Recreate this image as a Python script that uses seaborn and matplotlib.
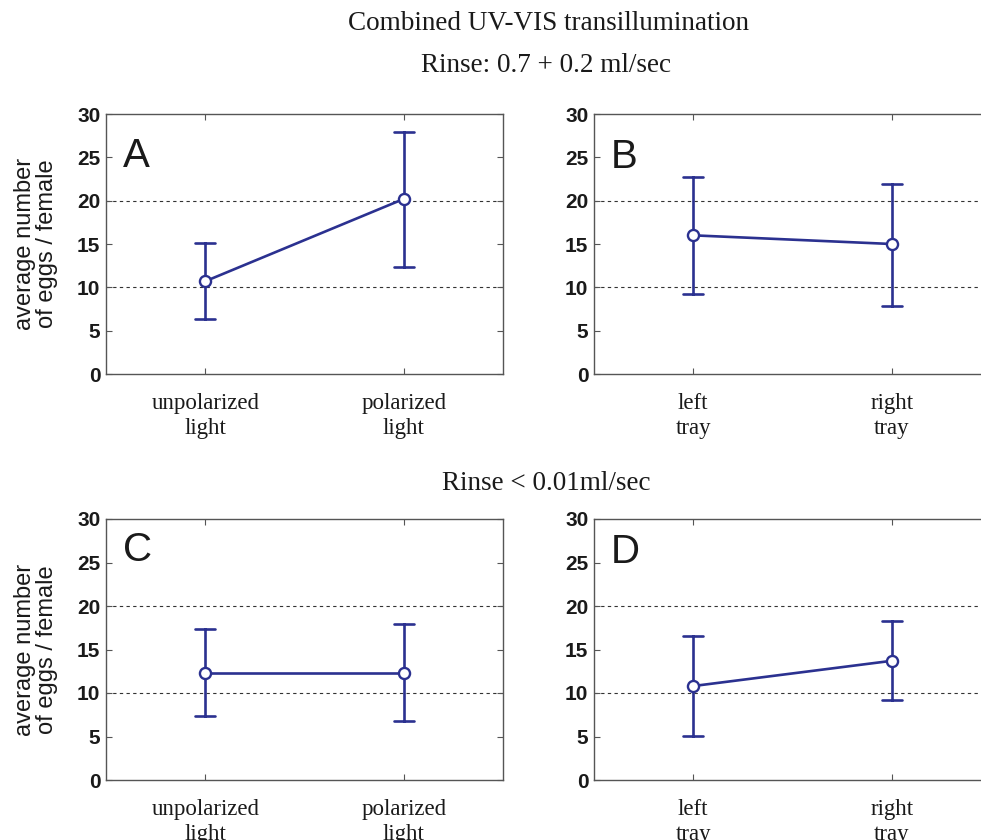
import matplotlib
matplotlib.use("Agg")
import matplotlib.pyplot as plt
import numpy as np
import pandas as pd
import seaborn as sns

# --- values ------------------------------------------------------------------
light_labels = ["unpolarized\nlight", "polarized\nlight"]
tray_labels = ["left\ntray", "right\ntray"]

# A: fast rinse, light type
a_mean = [10.7, 20.2]
a_low = [6.3, 12.4]
a_high = [15.1, 27.9]

# B: fast rinse, tray side
b_mean = [16.0, 15.0]
b_low = [9.2, 7.9]
b_high = [22.7, 21.9]

# C: slow rinse, light type
c_mean = [12.3, 12.3]
c_low = [7.3, 6.8]
c_high = [17.3, 17.9]

# D: slow rinse, tray side
d_mean = [10.8, 13.7]
d_low = [5.1, 9.2]
d_high = [16.6, 18.3]

y_ticks = [0, 5, 10, 15, 20, 25, 30]
grid_levels = [10, 20]

title_main = "Combined UV-VIS transillumination"
title_fast = "Rinse: 0.7 + 0.2 ml/sec"
title_slow = "Rinse < 0.01ml/sec"
y_label = "average number\nof eggs / female"

BLUE = "#2b3190"
SPINE = "#555555"
INK = "#1a1a1a"
SERIF = ["Liberation Serif", "DejaVu Serif"]
SANS = ["Liberation Sans", "DejaVu Sans"]

sns.set_theme(style="white")
plt.rcParams["font.family"] = SANS


def panel_frame(labels, low, mean, high):
    """Long form: low / mean / high per condition; median -> mean, min/max -> bar."""
    rows = []
    for lab, lo, m, hi in zip(labels, low, mean, high):
        rows += [(lab, lo), (lab, m), (lab, hi)]
    return pd.DataFrame(rows, columns=["condition", "eggs"])


def draw_panel(ax, labels, low, mean, high, letter, letter_y, ylabel=None):
    df = panel_frame(labels, low, mean, high)
    sns.pointplot(
        data=df, x="condition", y="eggs",
        estimator="median", errorbar=lambda v: (v.min(), v.max()),
        capsize=0.1, color=BLUE, markers="o",
        markersize=8, markerfacecolor="white", markeredgewidth=1.7,
        linewidth=1.9, err_kws={"linewidth": 1.9},
        ax=ax,
    )
    for line in ax.lines:
        if line.get_marker() == "o":
            line.set_zorder(5)
    for lvl in grid_levels:
        ax.axhline(lvl, color="#333333", linestyle=(0, (3, 3)), linewidth=0.8, zorder=0)
    ax.set_xlim(-0.5, 1.5)
    ax.set_ylim(0, 30)
    ax.set_yticks(y_ticks)
    ax.set_xlabel("")
    ax.set_ylabel("")
    for sp in ax.spines.values():
        sp.set_visible(True)
        sp.set_color(SPINE)
        sp.set_linewidth(1.0)
    ax.tick_params(axis="both", direction="in", length=4, width=0.8,
                   color=SPINE, top=True, right=True, bottom=True, left=True)
    ax.tick_params(axis="y", pad=4, labelsize=15)
    ax.tick_params(axis="x", pad=14)
    for t in ax.get_yticklabels():
        t.set_fontweight("bold")
        t.set_color(INK)
    ax.set_xticks(range(len(labels)))
    ax.set_xticklabels(labels, fontfamily=SERIF, fontsize=16.5, color=INK,
                       linespacing=1.2)
    ax.text(0.043, letter_y, letter, transform=ax.transAxes, fontsize=29,
            color=INK, va="baseline", ha="left")
    if ylabel:
        ax.set_ylabel(ylabel, fontsize=17, color=INK, linespacing=1.0)
        ax.yaxis.set_label_coords(-0.122, 0.5)


W, H = 981, 840
fig = plt.figure(figsize=(W / 100, H / 100), dpi=100)

ax_w = 397 / W
ax_a = fig.add_axes([106 / W, 1 - 374 / H, ax_w, 260 / H])
ax_b = fig.add_axes([594 / W, 1 - 374 / H, ax_w, 260 / H])
ax_c = fig.add_axes([106 / W, 1 - 780 / H, ax_w, 261 / H])
ax_d = fig.add_axes([594 / W, 1 - 780 / H, ax_w, 261 / H])

draw_panel(ax_a, light_labels, a_low, a_mean, a_high, "A", 0.796, y_label)
draw_panel(ax_b, tray_labels, b_low, b_mean, b_high, "B", 0.792)
draw_panel(ax_c, light_labels, c_low, c_mean, c_high, "C", 0.839, y_label)
draw_panel(ax_d, tray_labels, d_low, d_mean, d_high, "D", 0.831)

fig.text(548 / W, 1 - 24 / H, title_main, family=SERIF, fontsize=19.5,
         ha="center", va="center", color=INK)
fig.text(546 / W, 1 - 66 / H, title_fast, family=SERIF, fontsize=19.5,
         ha="center", va="center", color=INK)
fig.text(546 / W, 1 - 484 / H, title_slow, family=SERIF, fontsize=19.5,
         ha="center", va="center", color=INK)

fig.savefig("out.png", dpi=100, facecolor="white")
